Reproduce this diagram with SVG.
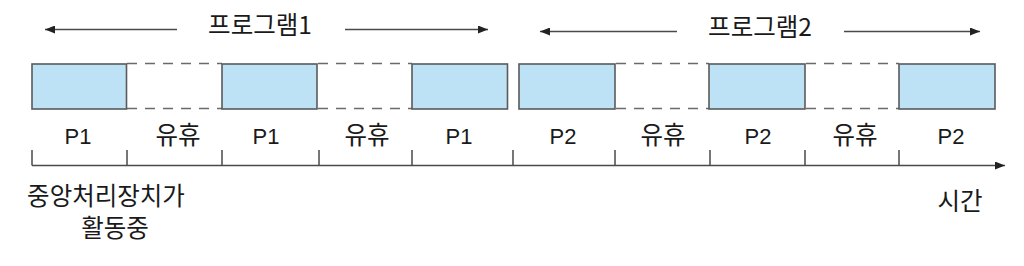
<svg xmlns="http://www.w3.org/2000/svg" width="1024" height="266" viewBox="0 0 1024 266">
<defs>
<style>
.box{fill:#bde2f6;stroke:#5a5a5a;stroke-width:1.6}
.dash{stroke:#6a6a6a;stroke-width:1.4;stroke-dasharray:10 8;fill:none}
.ln{stroke:#4a4a4a;stroke-width:1.5;fill:none}
.kr{font-family:"Noto Sans CJK KR","Noto Sans",sans-serif;font-size:24.5px;fill:#1a1a1a}
.lat{font-family:"Liberation Sans",Arial,sans-serif;font-size:22px;fill:#1a1a1a}
</style>
<marker id="ah" viewBox="0 0 10 8" refX="10" refY="4" markerWidth="10" markerHeight="8" markerUnits="userSpaceOnUse" orient="auto-start-reverse">
<path d="M0,0 L10,4 L0,8 z" fill="#222"/>
</marker>
</defs>
<g id="connectors">
<line class="ln" x1="45" y1="29.5" x2="177" y2="29.5" marker-start="url(#ah)"/>
<line class="ln" x1="345" y1="29.5" x2="488" y2="29.5" marker-end="url(#ah)"/>
<line class="ln" x1="540" y1="31.5" x2="677" y2="31.5" marker-start="url(#ah)"/>
<line class="ln" x1="844" y1="31.5" x2="980" y2="31.5" marker-end="url(#ah)"/>
<line class="dash" x1="127" y1="63.5" x2="222" y2="63.5"/>
<line class="dash" x1="127" y1="108.5" x2="222" y2="108.5"/>
<line class="dash" x1="318" y1="63.5" x2="412" y2="63.5"/>
<line class="dash" x1="318" y1="108.5" x2="412" y2="108.5"/>
<line class="dash" x1="616" y1="63.5" x2="709" y2="63.5"/>
<line class="dash" x1="616" y1="108.5" x2="709" y2="108.5"/>
<line class="dash" x1="806" y1="63.5" x2="899" y2="63.5"/>
<line class="dash" x1="806" y1="108.5" x2="899" y2="108.5"/>
<line class="ln" x1="32" y1="165.5" x2="1005" y2="165.5" marker-end="url(#ah)"/>
<path class="ln" d="M32,150V165.5 M127,150V165.5 M222,150V165.5 M319,150V165.5 M412,150V165.5 M513,150V165.5 M615,150V165.5 M710,150V165.5 M805,150V165.5 M899,150V165.5"/>
</g>
<g id="title1"><text class="kr" x="260" y="34" text-anchor="middle">프로그램1</text></g>
<g id="title2"><text class="kr" x="760" y="36" text-anchor="middle">프로그램2</text></g>
<g id="b1"><rect class="box" x="32" y="64" width="94.5" height="45"/><text class="lat" x="78" y="144" text-anchor="middle">P1</text></g>
<g id="i1"><text class="kr" x="178" y="144" text-anchor="middle">유휴</text></g>
<g id="b2"><rect class="box" x="222" y="64" width="95" height="45"/><text class="lat" x="266" y="144" text-anchor="middle">P1</text></g>
<g id="i2"><text class="kr" x="367" y="144" text-anchor="middle">유휴</text></g>
<g id="b3"><rect class="box" x="412" y="64" width="95.5" height="45"/><text class="lat" x="459" y="144" text-anchor="middle">P1</text></g>
<g id="b4"><rect class="box" x="519" y="64" width="96" height="45"/><text class="lat" x="563" y="144" text-anchor="middle">P2</text></g>
<g id="i3"><text class="kr" x="663" y="144" text-anchor="middle">유휴</text></g>
<g id="b5"><rect class="box" x="709" y="64" width="96" height="45"/><text class="lat" x="758" y="144" text-anchor="middle">P2</text></g>
<g id="i4"><text class="kr" x="855" y="144" text-anchor="middle">유휴</text></g>
<g id="b6"><rect class="box" x="899" y="64" width="96" height="45"/><text class="lat" x="951" y="144" text-anchor="middle">P2</text></g>
<g id="cpu"><text class="kr" x="106" y="205" text-anchor="middle">중앙처리장치가</text><text class="kr" x="115" y="237" text-anchor="middle">활동중</text></g>
<g id="time"><text class="kr" x="960" y="210" text-anchor="middle">시간</text></g>
</svg>
